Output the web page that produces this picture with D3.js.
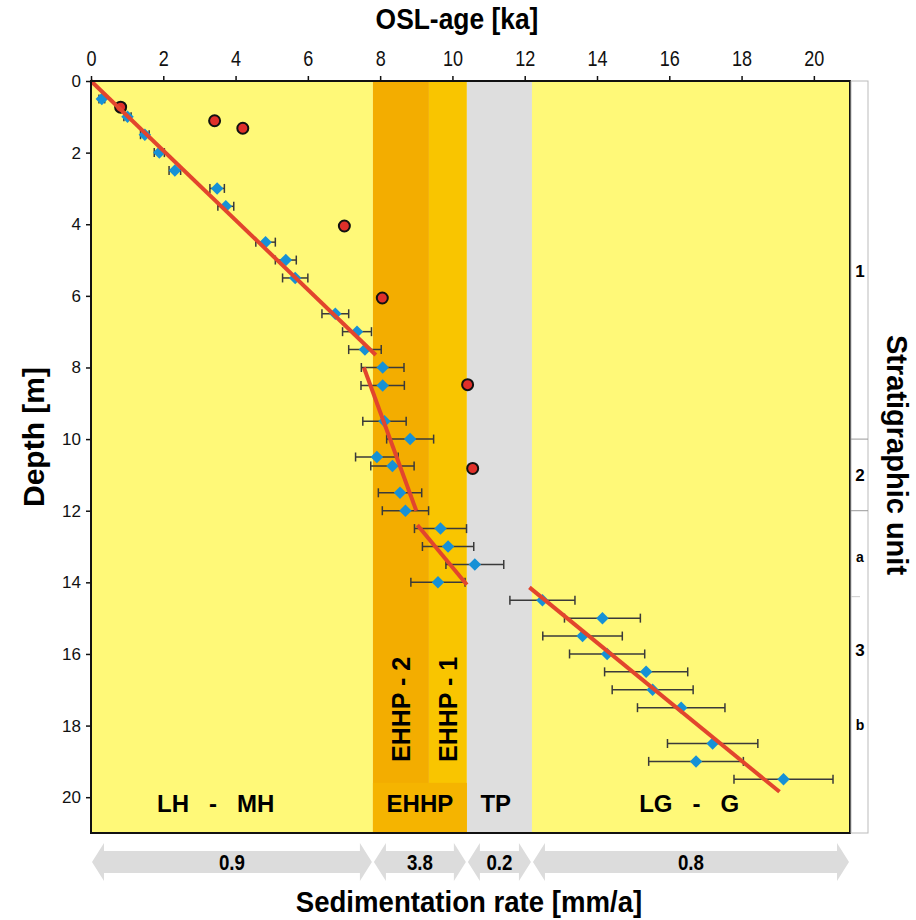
<!DOCTYPE html>
<html lang="en">
<head>
<meta charset="UTF-8">
<title>OSL-age vs depth</title>
<script src="https://d3js.org/d3.v7.min.js"></script>
<style>
    body {margin: 0; background: #fff;}
    svg {display: block;}
</style>
</head>
<body>
<script>
    // dated samples (blue diamonds): age [ka], depth [m], 1-sigma error [ka]
    const sampleAge   = [0.30, 1.01, 1.49, 1.89, 2.32, 3.49, 3.73, 4.83, 5.39, 5.65, 6.76, 7.36, 7.58,
                         8.07, 8.07, 8.12, 8.83, 7.91, 8.34, 8.55, 8.70, 9.67, 9.88, 10.62, 9.60,
                         12.49, 14.15, 13.60, 14.28, 15.36, 15.54, 16.33, 17.20, 16.74, 19.16];
    const sampleDepth = [0.5, 1.0, 1.5, 2.0, 2.5, 3.0, 3.5, 4.5, 5.0, 5.5, 6.5, 7.0, 7.5,
                         8.0, 8.5, 9.5, 10.0, 10.5, 10.75, 11.5, 12.0, 12.5, 13.0, 13.5, 14.0,
                         14.5, 15.0, 15.5, 16.0, 16.5, 17.0, 17.5, 18.5, 19.0, 19.5];
    const sampleErr   = [0.08, 0.10, 0.12, 0.14, 0.16, 0.20, 0.22, 0.27, 0.29, 0.35, 0.37, 0.40, 0.45,
                         0.59, 0.60, 0.60, 0.65, 0.59, 0.60, 0.60, 0.64, 0.72, 0.71, 0.80, 0.75,
                         0.90, 1.05, 1.10, 1.04, 1.15, 1.12, 1.21, 1.25, 1.31, 1.37];

    // rejected ages (red circles)
    const outlierAge   = [0.82, 3.42, 4.20, 7.01, 8.06, 10.42, 10.56];
    const outlierDepth = [0.73, 1.11, 1.32, 4.05, 6.06, 8.48, 10.82];

    // regression segments [age0, depth0, age1, depth1]
    const fitLines = [
        [0.0, 0.0, 7.88, 7.65],
        [7.55, 8.0, 9.00, 12.0],
        [9.03, 12.4, 10.40, 14.07],
        [12.13, 14.14, 19.05, 19.85]
    ];

    // period bands (age boundaries)
    const bandStart = [0, 7.8, 9.35, 10.4, 12.2];
    const bandEnd   = [7.8, 9.35, 10.4, 12.2, 21];
    const bandColor = ["#fff978", "#f3ad00", "#f9c500", "#dedede", "#fff978"];

    const periodLabels = ["LH   -   MH", "EHHP", "TP", "LG   -   G"];
    const periodAge    = [3.45, 9.1, 11.2, 16.55];

    // sedimentation rate arrows
    const rateStart = [0, 7.8, 10.4, 12.2];
    const rateEnd   = [7.8, 10.4, 12.2, 21];
    const rateLabel = ["0.9", "3.8", "0.2", "0.8"];

    // stratigraphic units
    const unitBreaks = [10, 12];
    const unitLabels = ["1", "2", "a", "3", "b"];
    const unitDepth  = [5.3, 11.0, 13.3, 15.9, 18.0];

    const ageTicks   = d3.range(0, 21, 2);
    const depthTicks = d3.range(0, 21, 2);

    const width = 916;
    const height = 920;
    const mLeft = 91, mRight = 850, mTop = 81, mBottom = 833;

    const sans = "'Liberation Sans', Arial, sans-serif";

    const svg = d3.select("body").append("svg")
            .attr("width", width).attr("height", height);

    const x = d3.scaleLinear().domain([0, 21]).range([mLeft, mRight]);
    const y = d3.scaleLinear().domain([0, 21]).range([mTop, mBottom]);

    // background bands
    svg.append("g").selectAll("rect")
            .data(bandStart)
            .enter().append("rect")
            .attr("x", (d, i) => x(d))
            .attr("y", y(0))
            .attr("width", (d, i) => x(bandEnd[i]) - x(d))
            .attr("height", y(21) - y(0))
            .style("fill", (d, i) => bandColor[i]);

    // EHHP base strip
    svg.append("rect")
            .attr("x", x(7.8)).attr("y", y(19.6))
            .attr("width", x(10.4) - x(7.8)).attr("height", y(21) - y(19.6))
            .style("fill", "#f5b400");

    // period labels
    svg.append("g").selectAll("text")
            .data(periodLabels)
            .enter().append("text")
            .attr("x", (d, i) => x(periodAge[i]))
            .attr("y", y(20.17))
            .attr("dy", "0.36em")
            .attr("text-anchor", "middle")
            .style("font-family", sans).style("font-weight", "bold").style("font-size", "24px")
            .style("white-space", "pre")
            .text(d => d);

    [["EHHP - 2", 8.57], ["EHHP - 1", 9.87]].forEach(function (p) {
        svg.append("text")
                .attr("transform", "translate(" + x(p[1]) + "," + y(17.55) + ") rotate(-90)")
                .attr("dy", "0.36em")
                .attr("text-anchor", "middle")
                .style("font-family", sans).style("font-weight", "bold").style("font-size", "25px")
                .text(p[0]);
    });

    // error bars
    const bars = svg.append("g").selectAll("g")
            .data(sampleAge)
            .enter().append("g")
            .style("stroke", "#3a3a3a").style("stroke-width", 1.5);
    bars.append("line")
            .attr("x1", (d, i) => x(d - sampleErr[i])).attr("x2", (d, i) => x(d + sampleErr[i]))
            .attr("y1", (d, i) => y(sampleDepth[i])).attr("y2", (d, i) => y(sampleDepth[i]));
    bars.append("line")
            .attr("x1", (d, i) => x(d - sampleErr[i])).attr("x2", (d, i) => x(d - sampleErr[i]))
            .attr("y1", (d, i) => y(sampleDepth[i]) - 4.5).attr("y2", (d, i) => y(sampleDepth[i]) + 4.5);
    bars.append("line")
            .attr("x1", (d, i) => x(d + sampleErr[i])).attr("x2", (d, i) => x(d + sampleErr[i]))
            .attr("y1", (d, i) => y(sampleDepth[i]) - 4.5).attr("y2", (d, i) => y(sampleDepth[i]) + 4.5);

    // diamonds
    svg.append("g").selectAll("path")
            .data(sampleAge)
            .enter().append("path")
            .attr("d", d3.symbol().type(d3.symbolSquare).size(78))
            .attr("transform", (d, i) => "translate(" + x(d) + "," + y(sampleDepth[i]) + ") rotate(45)")
            .style("fill", "#1691d6");

    // red circles
    svg.append("g").selectAll("circle")
            .data(outlierAge)
            .enter().append("circle")
            .attr("cx", d => x(d))
            .attr("cy", (d, i) => y(outlierDepth[i]))
            .attr("r", 5.5)
            .style("fill", "#e0302a")
            .style("stroke", "#111").style("stroke-width", 2);

    // regression lines
    svg.append("g").selectAll("line")
            .data(fitLines)
            .enter().append("line")
            .attr("x1", d => x(d[0])).attr("y1", d => y(d[1]))
            .attr("x2", d => x(d[2])).attr("y2", d => y(d[3]))
            .style("stroke", "#e2452d").style("stroke-width", 4);

    // frame
    svg.append("rect")
            .attr("x", mLeft).attr("y", mTop)
            .attr("width", mRight - mLeft).attr("height", mBottom - mTop)
            .style("fill", "none").style("stroke", "#111").style("stroke-width", 2);

    // axes
    const xAxis = svg.append("g")
            .attr("transform", "translate(0," + mTop + ")")
            .call(d3.axisTop(x).tickValues(ageTicks).tickSize(5).tickSizeOuter(0));
    xAxis.select(".domain").remove();
    xAxis.selectAll("line").style("stroke", "#111").style("stroke-width", 1.5);
    xAxis.selectAll("text")
            .attr("y", -15)
            .attr("transform", "scale(0.82,1)")
            .style("font-family", sans).style("font-size", "22px").style("fill", "#111");

    const yAxis = svg.append("g")
            .attr("transform", "translate(" + mLeft + ",0)")
            .call(d3.axisLeft(y).tickValues(depthTicks).tickSize(5).tickSizeOuter(0));
    yAxis.select(".domain").remove();
    yAxis.selectAll("line").style("stroke", "#111").style("stroke-width", 1.5);
    yAxis.selectAll("text")
            .attr("x", -10)
            .style("font-family", sans).style("font-size", "17px").style("fill", "#111");

    // axis titles
    svg.append("text")
            .attr("transform", "translate(457,29) scale(0.88,1)")
            .attr("text-anchor", "middle")
            .style("font-family", sans).style("font-weight", "bold").style("font-size", "30px")
            .text("OSL-age [ka]");

    svg.append("text")
            .attr("transform", "translate(44,437) rotate(-90)")
            .attr("text-anchor", "middle")
            .style("font-family", sans).style("font-weight", "bold").style("font-size", "30px")
            .text("Depth [m]");

    svg.append("text")
            .attr("transform", "translate(887,455) rotate(90)")
            .attr("text-anchor", "middle")
            .style("font-family", sans).style("font-weight", "bold").style("font-size", "29px")
            .text("Stratigraphic unit");

    // stratigraphic column
    svg.append("rect")
            .attr("x", mRight + 1).attr("y", mTop)
            .attr("width", 17).attr("height", mBottom - mTop)
            .style("fill", "#fff").style("stroke", "#bbb").style("stroke-width", 1);
    svg.append("g").selectAll("line")
            .data(unitBreaks)
            .enter().append("line")
            .attr("x1", mRight + 1).attr("x2", mRight + 18)
            .attr("y1", d => y(d)).attr("y2", d => y(d))
            .style("stroke", "#999").style("stroke-width", 1);
    svg.append("line")
            .attr("x1", mRight + 1).attr("x2", mRight + 10)
            .attr("y1", y(14.4)).attr("y2", y(14.4))
            .style("stroke", "#ccc").style("stroke-width", 1);
    svg.append("g").selectAll("text")
            .data(unitLabels)
            .enter().append("text")
            .attr("x", mRight + 10)
            .attr("y", (d, i) => y(unitDepth[i]))
            .attr("dy", "0.35em")
            .attr("text-anchor", "middle")
            .style("font-family", sans).style("font-weight", "bold")
            .style("font-size", d => isNaN(d) ? "14px" : "17px")
            .text(d => d);

    // sedimentation-rate arrows
    const ay = 862, body = 11, wing = 19, head = 12;
    const arrows = svg.append("g").selectAll("g")
            .data(rateStart)
            .enter().append("g");
    arrows.append("path")
            .attr("d", function (d, i) {
                const x0 = x(d) + 1, x1 = x(rateEnd[i]) - 1;
                return "M" + x0 + "," + ay +
                        "L" + (x0 + head) + "," + (ay - wing) +
                        "L" + (x0 + head) + "," + (ay - body) +
                        "L" + (x1 - head) + "," + (ay - body) +
                        "L" + (x1 - head) + "," + (ay - wing) +
                        "L" + x1 + "," + ay +
                        "L" + (x1 - head) + "," + (ay + wing) +
                        "L" + (x1 - head) + "," + (ay + body) +
                        "L" + (x0 + head) + "," + (ay + body) +
                        "L" + (x0 + head) + "," + (ay + wing) + "Z";
            })
            .style("fill", "#dcdcdc");
    arrows.append("text")
            .attr("transform", (d, i) => "translate(" + (x(d) + x(rateEnd[i])) / 2 + "," + ay + ") scale(0.85,1)")
            .attr("dy", "0.36em")
            .attr("text-anchor", "middle")
            .style("font-family", sans).style("font-weight", "bold").style("font-size", "22px")
            .text((d, i) => rateLabel[i]);

    svg.append("text")
            .attr("transform", "translate(469,912) scale(0.92,1)")
            .attr("text-anchor", "middle")
            .style("font-family", sans).style("font-weight", "bold").style("font-size", "30px")
            .text("Sedimentation rate [mm/a]");
</script>
</body>
</html>
